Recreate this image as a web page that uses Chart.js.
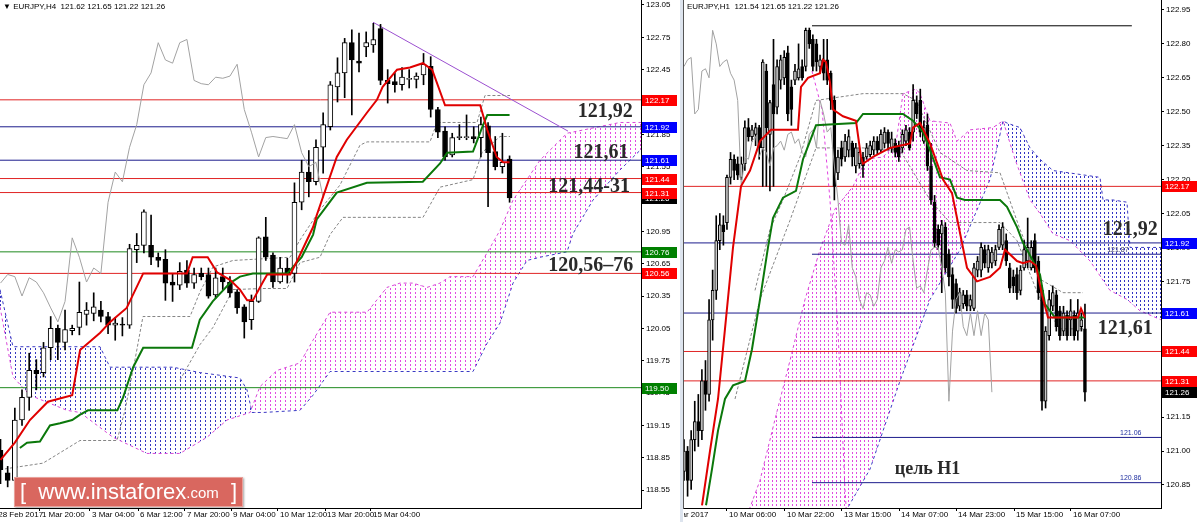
<!DOCTYPE html>
<html lang="ru">
<head>
<meta charset="UTF-8">
<title>EURJPY H4 / H1</title>
<script src="https://cdn.jsdelivr.net/npm/chart.js@4.4.1/dist/chart.umd.min.js"></script>
<style>
  html, body { margin: 0; padding: 0; background: #fff; }
  body { width: 1200px; height: 522px; position: relative; overflow: hidden; font-family: "Liberation Sans", Arial, sans-serif; }
  canvas { position: absolute; top: 0; }
  #h4 { left: 0; }
  #h1 { left: 684px; }
  .gap { position: absolute; left: 680px; top: 0; width: 3px; height: 522px; background: #dde4ee; }
  .edge { position: absolute; left: 683px; top: 0; width: 1px; height: 509px; background: #555; }
  .head { position: absolute; top: 2px; font-size: 8px; color: #000; white-space: pre; }
  .logo { position: absolute; left: 14px; top: 477px; width: 227px; height: 28px; background: #d9675f;
          border: 1px solid #e9a09a; box-shadow: 1px 1px 2px rgba(0,0,0,.35); color: #fff;
          display: flex; align-items: center; justify-content: center; white-space: pre; }
  .logo .b { font-size: 22px; font-weight: 300; }
  .logo .w { font-size: 22px; }
  .logo .c { font-size: 15px; }
</style>
</head>
<body>
<canvas id="h4" width="680" height="522"></canvas>
<div class="gap"></div>
<div class="edge"></div>
<canvas id="h1" width="516" height="522"></canvas>
<div class="head" style="left:3px">▼ EURJPY,H4  121.62 121.65 121.22 121.26</div>
<div class="head" style="left:687px">EURJPY,H1  121.54 121.65 121.22 121.26</div>
<div class="logo"><span class="b">[  </span><span class="w">www.instaforex</span><span class="c">.com</span><span class="b">  ]</span></div>

<script>
// ---------- H4 (left) ----------
const h4Open = [118.92,118.71,118.64,119.20,119.41,119.66,119.64,119.87,120.05,119.92,
  120.03,120.06,120.18,120.19,120.22,120.16,120.08,120.09,120.08,120.78,
  120.82,120.82,120.71,120.69,120.48,120.45,120.59,120.47,120.56,120.55,
  120.36,120.53,120.48,120.39,120.25,120.13,120.30,120.90,120.73,120.48,
  120.61,120.56,121.22,121.50,121.41,121.73,121.92,122.29,122.42,122.70,
  122.53,122.66,122.68,122.83,122.35,122.34,122.31,122.36,122.36,122.40,
  122.48,122.08,121.88,121.66,121.82,121.82,121.83,121.82,121.93,121.69,
  121.55,121.62];
const h4High = [119.02,118.77,119.31,119.48,119.82,119.76,119.92,120.16,120.08,120.22,
  120.08,120.48,120.29,120.38,120.30,120.20,120.15,120.15,120.83,120.93,
  121.15,121.10,120.75,120.78,120.56,120.66,120.68,120.61,120.61,120.61,
  120.61,120.61,120.53,120.41,120.27,120.36,120.90,121.08,120.75,120.71,
  120.70,121.40,121.61,121.70,121.80,122.05,122.34,122.56,122.74,122.82,
  122.79,122.80,122.88,122.87,122.45,122.42,122.47,122.45,122.42,122.60,
  122.57,122.10,121.92,121.86,121.94,122.03,121.92,122.01,121.96,121.83,
  121.86,121.65];
const h4Low = [118.61,118.58,118.62,119.15,119.29,119.48,119.60,119.76,119.76,119.85,
  119.99,119.99,120.08,120.12,120.11,120.00,119.94,119.98,120.05,120.66,
  120.75,120.64,120.62,120.31,120.30,120.41,120.43,120.42,120.50,120.33,
  120.33,120.41,120.34,120.19,119.96,120.04,120.29,120.68,120.43,120.47,
  120.47,120.48,121.15,121.27,121.38,121.49,121.89,122.15,122.19,122.03,
  122.43,122.57,122.61,122.31,122.14,122.24,122.26,122.28,122.28,122.31,
  122.01,121.82,121.61,121.64,121.80,121.80,121.77,121.64,121.18,121.52,
  121.49,121.22];
const h4Close = [118.74,118.64,119.20,119.41,119.66,119.63,119.87,120.05,119.92,120.04,
  120.05,120.20,120.22,120.25,120.16,120.08,120.10,120.08,120.79,120.82,
  121.13,120.71,120.68,120.47,120.45,120.58,120.47,120.55,120.53,120.35,
  120.52,120.48,120.38,120.24,120.11,120.30,120.89,120.71,120.48,120.61,
  120.56,121.22,121.50,121.41,121.73,121.94,122.31,122.42,122.70,122.54,
  122.51,122.70,122.73,122.35,122.32,122.31,122.38,122.37,122.39,122.50,
  122.08,121.87,121.64,121.82,121.83,121.82,121.81,121.94,121.68,121.55,
  121.59,121.26];

const h4Tenkan = [[0,118.83],[2,118.99],[4.1,119.20],[6.6,119.37],[10,119.43],[11.1,119.85],[13.9,120.01],
  [15.3,120.11],[17.6,120.24],[19.9,120.56],[26,120.56],[26.8,120.71],[28.9,120.71],[30.2,120.57],
  [32,120.50],[33.4,120.41],[34.4,120.31],[35.2,120.31],[36.6,120.48],[37.2,120.55],[40.4,120.55],
  [41.4,120.68],[43.6,120.99],[44.1,121.10],[46.9,121.64],[48.3,121.80],[51.1,122.05],[52.5,122.17],
  [53.3,122.29],[55.3,122.45],[57.1,122.47],[58.9,122.51],[60.2,122.45],[62,122.12],[66.9,122.12],
  [67.9,121.89],[69.2,121.64],[70.1,121.59],[71,121.59]];
const h4Kijun = [[2.7,118.94],[3.7,118.99],[5.5,119.00],[6.9,119.15],[8.3,119.17],[10,119.20],[11.1,119.25],
  [12.2,119.29],[16.3,119.29],[17.1,119.41],[18.5,119.69],[19.9,119.87],[26.7,119.87],[27.8,120.13],
  [29.6,120.30],[32,120.47],[33.4,120.53],[35.2,120.56],[40,120.56],[40.8,120.62],[42,120.71],
  [43.6,120.92],[44.1,121.06],[46.9,121.31],[51.1,121.40],[58.9,121.41],[61.3,121.58],[62.3,121.68],
  [65.9,121.69],[67.2,121.92],[67.9,122.03],[71,122.03]];
const h4SpanA = [[-0.07,120.25],[1.74,119.60],[4.11,119.43],[9.27,119.29],[11.09,119.27],[15.69,119.04],
  [20.43,118.89],[25.03,118.89],[28.8,119.04],[31.59,119.20],[34.8,119.27],[36.19,119.51],[38.56,119.66],
  [41.77,119.73],[43.58,119.94],[45.96,120.20],[51.12,120.20],[53.9,120.43],[55.72,120.47],[57.53,120.47],
  [59.48,120.43],[61.3,120.47],[62.69,120.53],[65.9,120.53],[67.85,120.75],[69.67,120.96],[71.48,121.24],
  [75.24,121.61],[79.01,121.86],[86.4,121.96],[89.33,121.96]];
const h4SpanB = [[-0.07,120.41],[1.74,119.88],[13.88,119.88],[15.27,119.69],[24.06,119.69],[27.83,119.64],
  [33.4,119.59],[34.38,119.48],[35.08,119.27],[36.61,119.27],[41.77,119.29],[43.58,119.43],[45.96,119.65],
  [65.9,119.65],[67.85,119.91],[69.67,120.10],[71.48,120.47],[73.43,120.68],[75.24,120.71],[79.01,120.76],
  [79.85,120.93],[82.63,121.24],[86.4,121.52],[89.33,121.71]];
const h4DashA = [[-0.07,118.74],[5.93,118.80],[11.09,119.01],[16.25,119.01],[17.36,119.29],[18.76,119.76],
  [19.87,120.16],[26.43,120.16],[27.83,120.39],[29.64,120.62],[32.43,120.68],[40.38,120.71],[41.77,120.87],
  [44.56,121.15],[47.35,121.38],[50.14,121.75],[51.12,121.78],[59.9,121.78],[60.88,121.96],[66.46,121.96],
  [67.57,122.21],[71.06,122.21]];
const h4DashB = [[25.03,119.57],[27.83,119.90],[29.64,120.06],[32.43,120.41],[36.61,120.42],[39.96,120.42],
  [41.77,120.66],[44.56,120.71],[45.96,120.92],[47.77,121.08],[58.93,121.08],[61.3,121.36],[65.9,121.43],
  [67.15,121.68],[69.67,121.83],[71.06,121.83]];
const h4Trend = [[51.95,122.89],[79.15,121.88]];
const h4Levels = [122.17, 121.92, 121.61, 121.44, 121.31, 120.76, 120.56, 119.50];
const h4Tags = [122.17, 121.92, 121.61, 121.44, 121.26, 121.31, 120.76, 120.56, 119.50];
const h4Ticks = [118.55,118.85,119.15,119.45,119.75,120.05,120.35,120.65,120.95,121.25,121.55,121.85,122.15,122.45,122.75,123.05];
const h4Dates = ['28 Feb 2017','1 Mar 20:00','3 Mar 04:00','6 Mar 12:00','7 Mar 20:00','9 Mar 04:00','10 Mar 12:00','13 Mar 20:00','15 Mar 04:00'];
const h4DateAt = [-0.6, 5.5, 12.48, 19.18, 25.73, 32.15, 38.7, 45.26, 51.67];

// ---------- H1 (right) ----------
const h1Open = [120.91,121.00,120.87,121.05,121.13,121.09,121.31,121.25,121.58,121.71,
  121.93,122.00,122.01,122.21,122.29,122.27,122.21,122.27,122.43,122.39,
  122.40,122.43,122.34,122.68,122.40,122.62,122.52,122.64,122.65,122.76,
  122.61,122.64,122.65,122.70,122.70,122.86,122.82,122.80,122.70,122.72,
  122.73,122.67,122.55,122.23,122.34,122.30,122.33,122.36,122.26,122.27,
  122.30,122.30,122.31,122.33,122.37,122.33,122.36,122.41,122.34,122.36,
  122.35,122.34,122.37,122.41,122.41,122.54,122.55,122.37,122.44,122.26,
  122.10,121.98,121.96,121.99,121.87,121.78,121.74,121.64,121.65,121.69,
  121.64,121.63,121.80,121.80,121.89,121.81,121.83,121.84,121.90,121.91,
  121.93,121.81,121.77,121.78,121.71,121.81,121.84,121.81,121.93,121.84,
  121.71,121.22,121.51,121.64,121.69,121.62,121.53,121.60,121.58,121.60,
  121.53,121.55,121.54];
const h1High = [121.05,121.02,121.09,121.22,121.25,121.36,121.40,121.67,121.80,122.04,
  122.05,122.04,122.22,122.32,122.31,122.30,122.30,122.46,122.47,122.44,
  122.45,122.44,122.73,122.71,122.55,122.82,122.73,122.75,122.77,122.79,
  122.64,122.71,122.80,122.73,122.87,122.87,122.84,122.82,122.75,122.82,
  122.82,122.68,122.57,122.33,122.37,122.40,122.42,122.37,122.36,122.34,
  122.32,122.36,122.37,122.39,122.39,122.42,122.43,122.42,122.41,122.38,
  122.37,122.42,122.44,122.43,122.62,122.57,122.60,122.46,122.49,122.36,
  122.13,122.00,122.02,122.01,121.89,121.81,121.76,121.72,121.71,121.71,
  121.69,121.83,121.86,121.92,121.91,121.91,121.90,121.91,122.00,122.01,
  121.96,121.83,121.80,121.81,121.82,121.93,122.03,121.93,121.96,121.86,
  121.73,121.55,121.71,121.73,121.71,121.64,121.64,121.62,121.67,121.62,
  121.67,121.61,121.65];
const h1Low = [120.87,120.80,120.83,121.00,121.02,121.05,121.18,121.22,121.49,121.67,
  121.89,121.91,121.98,122.18,122.20,122.20,122.20,122.24,122.37,122.37,
  122.35,122.29,122.17,122.17,122.15,122.17,122.49,122.60,122.62,122.46,
  122.44,122.62,122.64,122.64,122.68,122.78,122.68,122.68,122.67,122.64,
  122.62,122.51,122.11,122.20,122.26,122.28,122.30,122.26,122.23,122.25,
  122.21,122.29,122.30,122.31,122.31,122.32,122.34,122.33,122.32,122.30,
  122.28,122.32,122.35,122.33,122.37,122.47,122.39,122.36,122.24,122.09,
  121.90,121.89,121.70,121.79,121.73,121.63,121.61,121.62,121.63,121.62,
  121.62,121.62,121.77,121.77,121.81,121.79,121.81,121.82,121.89,121.89,
  121.82,121.70,121.70,121.67,121.69,121.80,121.81,121.80,121.79,121.67,
  121.18,121.19,121.49,121.62,121.53,121.49,121.51,121.49,121.51,121.49,
  121.49,121.53,121.22];
const h1Close = [121.00,120.87,121.05,121.13,121.09,121.31,121.25,121.58,121.71,121.93,
  122.00,121.97,122.21,122.29,122.24,122.22,122.27,122.43,122.39,122.42,
  122.43,122.34,122.72,122.43,122.54,122.49,122.70,122.73,122.74,122.49,
  122.51,122.68,122.69,122.65,122.86,122.80,122.70,122.72,122.73,122.67,
  122.64,122.55,122.17,122.30,122.29,122.37,122.39,122.30,122.34,122.32,
  122.26,122.34,122.35,122.37,122.33,122.40,122.41,122.36,122.38,122.32,
  122.30,122.40,122.42,122.34,122.55,122.49,122.41,122.43,122.26,122.11,
  121.92,121.91,122.00,121.81,121.77,121.67,121.63,121.70,121.69,121.64,
  121.67,121.81,121.84,121.90,121.83,121.89,121.88,121.89,121.98,121.99,
  121.84,121.72,121.73,121.70,121.80,121.89,121.90,121.90,121.81,121.70,
  121.22,121.53,121.67,121.70,121.55,121.51,121.61,121.51,121.62,121.51,
  121.61,121.58,121.26];

const h1Tenkan = [[5.03,120.76],[7.26,121.00],[9.5,121.23],[11.45,121.54],[13.69,121.90],[15.92,122.17],
  [18.44,122.24],[21.23,122.37],[24.3,122.42],[31.84,122.42],[32.68,122.61],[34.64,122.65],[37.99,122.67],
  [38.83,122.73],[39.66,122.72],[40.78,122.63],[41.62,122.51],[44.41,122.48],[48.04,122.46],[49.44,122.30],
  [50,122.27],[52.79,122.30],[57.54,122.34],[63.13,122.36],[63.97,122.43],[65.92,122.45],[68.72,122.36],
  [72.35,122.20],[74.86,122.14],[76.26,122.03],[79.05,121.81],[81.84,121.75],[85.47,121.77],[88.27,121.81],
  [89.66,121.89],[93.02,121.84],[94.69,121.83],[96.65,121.84],[98.32,121.82],[100,121.69],[101.68,121.59],
  [110.06,121.59],[110.89,121.63],[112.01,121.59]];
const h1Kijun = [[6.15,120.76],[7.82,120.92],[9.5,121.09],[11.45,121.23],[13.69,121.29],[17.04,121.31],
  [18.99,121.45],[21.23,121.67],[23.46,121.90],[24.86,122.03],[27.65,122.12],[31.28,122.15],[33.24,122.29],
  [35.2,122.37],[36.87,122.44],[48.04,122.45],[50,122.49],[61.17,122.49],[63.97,122.46],[66.76,122.41],
  [68.72,122.33],[71.51,122.21],[74.3,122.20],[76.26,122.12],[78.49,122.11],[88.27,122.11],[90.22,122.08],
  [93.02,121.99],[94.69,121.92],[95.81,121.89],[97.49,121.84],[99.44,121.78],[100.84,121.65],[103.63,121.59],
  [112.01,121.59]];
const h1SpanA = [[17.04,120.69],[21.23,120.87],[25.42,121.14],[29.61,121.40],[33.8,121.67],[37.99,121.89],
  [42.18,122.07],[47.21,122.17],[50.84,122.29],[55.59,122.30],[59.22,122.36],[61.17,122.58],[64.8,122.60],
  [65.92,122.58],[68.72,122.46],[74.3,122.45],[76.26,122.37],[79.89,122.42],[86.31,122.43],[89.11,122.46],
  [92.46,122.29],[96.65,122.11],[99.44,122.05],[103.07,121.96],[107.82,121.93],[113.41,121.84],
  [118.99,121.71],[123.74,121.67],[127.37,121.62],[133.24,121.58]];
const h1SpanB = [[17.04,120.60],[43.58,120.69],[51.96,120.92],[60.34,121.31],[68.72,121.67],[77.09,121.89],
  [85.47,122.20],[89.11,122.46],[90.22,122.45],[93.85,122.43],[96.65,122.34],[99.44,122.29],[103.07,122.24],
  [116.2,122.21],[117.04,122.11],[119.83,122.11],[123.74,122.10],[124.58,121.90],[133.24,121.90]];
const h1DashA = [[19.83,121.71],[24.02,121.98],[27.65,122.11],[32.4,122.30],[36.87,122.55],[50,122.58],
  [61.17,122.58],[64.8,122.55],[71.51,122.32],[79.05,122.24],[88.27,122.23],[93.85,121.98],[99.44,121.76],
  [105.87,121.70],[111.45,121.70]];
const h1DashB = [[14.25,121.23],[21.23,121.67],[29.61,122.02],[36.87,122.34],[50,122.34],[60.34,122.33],
  [68.72,122.11],[74.3,122.01],[88.27,122.01],[93.02,121.93],[99.44,121.67],[105.03,121.54],[111.45,121.54]];
const h1PinkDrop = [[35.75,122.68],[38.55,122.51],[40.78,122.11],[43.02,121.53],[44.97,120.83],[45.53,120.69]];
const h1Levels = [122.88, 122.17, 121.92, 121.87, 121.61, 121.44, 121.31, 121.06, 120.86];
const h1LevelFrom = [35.75, 0, 0, 35.75, 0, 0, 0, 35.75, 35.75];
const h1LevelTo = [125.1, 133.3, 133.3, 133.3, 133.3, 133.3, 133.3, 133.3, 133.3];
const h1Tags = [122.17, 121.92, 121.61, 121.44, 121.26, 121.31];
const h1Ticks = [120.85,121.00,121.15,121.30,121.45,121.60,121.75,121.90,122.05,122.20,122.35,122.50,122.65,122.80,122.95];
const h1Dates = ['9 Mar 2017','10 Mar 06:00','10 Mar 22:00','13 Mar 15:00','14 Mar 07:00','14 Mar 23:00','15 Mar 15:00','16 Mar 07:00'];
const h1DateAt = [-5.0, 12.01, 28.21, 44.13, 60.06, 75.98, 92.18, 108.1];

// ---------- drawing helpers ----------
const RED = '#e02424', NAVY = '#1c1c8c', GREEN = '#1f8a1f';
const FONT = '"Liberation Sans", Arial, sans-serif';

function hatch(color, w, h, len) {
  const c = document.createElement('canvas');
  c.width = w; c.height = h;
  const g = c.getContext('2d');
  g.fillStyle = color;
  g.fillRect(0, 0, 1, len);
  return g.createPattern(c, 'repeat');
}

const pts = arr => arr.map(p => ({x: p[0], y: p[1]}));

const overlay = {
  id: 'overlay',
  afterDatasetsDraw(chart, args, o) {
    const {ctx, scales: {x, y}} = chart;
    ctx.save();
    ctx.textAlign = 'left';
    ctx.textBaseline = 'middle';
    o.notes.forEach(n => {
      ctx.font = n.font;
      ctx.fillStyle = n.color;
      ctx.fillText(n.text, x.getPixelForValue(n.at), y.getPixelForValue(n.price));
    });
    ctx.restore();
  },
  afterDraw(chart, args, o) {
    const {ctx, chartArea: a, scales: {x, y}} = chart;
    ctx.save();
    ctx.font = '8px ' + FONT;
    ctx.textAlign = 'left';
    ctx.textBaseline = 'top';
    ctx.fillStyle = '#000';
    o.dates.forEach((t, k) => ctx.fillText(t, x.getPixelForValue(o.dateAt[k]) + 2, a.bottom + 3));
    ctx.textBaseline = 'middle';
    o.tags.forEach((v, k) => {
      const py = Math.round(y.getPixelForValue(v));
      ctx.fillStyle = o.tagColors[k];
      ctx.fillRect(a.right + 1, py - 5, 35, 11);
      ctx.fillStyle = '#fff';
      ctx.fillText(v.toFixed(2), a.right + 4, py + 0.5);
    });
    ctx.restore();
  }
};

function buildChart(id, d) {
  const bodies = d.open.map((o, i) => ({x: i, y: [o, d.close[i]]}));
  const wicks = d.low.map((l, i) => ({x: i, y: [l, d.high[i]]}));
  const bodyFill = d.open.map((o, i) => d.close[i] >= o ? d.upColor : '#000');
  const chikou = d.close.slice(26).map((c, i) => ({x: i, y: c}));
  const line = (data, color, width, extra) => Object.assign({
    type: 'line', data: pts(data), borderColor: color, borderWidth: width,
    pointRadius: 0, tension: 0, fill: false, order: 1
  }, extra || {});

  const datasets = [
    line(d.spanA, '#d846d8', 1, {borderDash: [3, 3], order: 10,
      fill: {target: '+1', above: d.pink, below: d.blue}}),
    line(d.spanB, '#3a3ac4', 1, {borderDash: [3, 3], order: 10}),
  ];
  d.levels.forEach((v, k) => {
    datasets.push(line([[d.levelFrom ? d.levelFrom[k] : d.xMin, v], [d.levelTo ? d.levelTo[k] : d.xMax, v]],
      d.levelColors[k], 1, {order: 8}));
  });
  d.extraLines.forEach(e => datasets.push(line(e.data, e.color, 1, {borderDash: e.dash || [], order: 7})));
  datasets.push(
    {type: 'bar', data: wicks, backgroundColor: '#000', barThickness: 1, grouped: false, order: 3},
    {type: 'bar', data: bodies, backgroundColor: bodyFill, borderColor: '#000', borderWidth: 1,
     borderSkipped: false, barThickness: d.bodyW, minBarLength: 1, grouped: false, order: 2},
    line(chikou.map(p => [p.x, p.y]), '#a2a2a2', 1, {order: 1}),
    line(d.tenkan, '#e00000', 2, {order: 0}),
    line(d.kijun, '#0b780b', 2, {order: 0})
  );

  return new Chart(document.getElementById(id), {
    type: 'bar',
    data: {datasets},
    plugins: [overlay],
    options: {
      responsive: false, animation: false, devicePixelRatio: 1, events: [],
      layout: {padding: 0},
      plugins: {
        legend: {display: false}, tooltip: {enabled: false},
        overlay: {notes: d.notes, tags: d.tags, tagColors: d.tagColors, dates: d.dates, dateAt: d.dateAt}
      },
      scales: {
        x: {
          type: 'linear', min: d.xMin, max: d.xMax, offset: false,
          grid: {display: true, drawOnChartArea: false, drawTicks: true, tickLength: 3, color: '#000', offset: false},
          border: {color: '#000'},
          ticks: {display: false},
          afterBuildTicks: s => { s.ticks = d.dateAt.filter(v => v >= d.xMin && v <= d.xMax).map(v => ({value: v})); },
          afterFit: s => { s.height = 14; s.paddingLeft = 0; s.paddingRight = 0; }
        },
        y: {
          type: 'linear', position: 'right', min: d.yMin, max: d.yMax,
          grid: {drawOnChartArea: false, tickLength: 3, color: '#000'},
          border: {color: '#000'},
          ticks: {color: '#000', font: {family: FONT, size: 8}, padding: 2, autoSkip: false,
                  callback: v => v.toFixed(2)},
          afterBuildTicks: s => { s.ticks = d.yTicks.map(v => ({value: v})); },
          afterFit: s => { s.width = 39; s.paddingTop = 0; s.paddingBottom = 0; }
        }
      }
    }
  });
}

const serif = 'bold 20px "Liberation Serif", "Times New Roman", serif';

buildChart('h4', {
  open: h4Open, high: h4High, low: h4Low, close: h4Close,
  tenkan: h4Tenkan, kijun: h4Kijun, spanA: h4SpanA, spanB: h4SpanB,
  pink: hatch('#e24ae2', 5, 4, 2), blue: hatch('#3636c0', 5, 4, 2),
  upColor: '#fff', bodyW: 5,
  levels: h4Levels, levelColors: [RED, NAVY, NAVY, RED, RED, GREEN, RED, GREEN],
  extraLines: [
    {data: h4DashA, color: '#858585', dash: [3, 2]},
    {data: h4DashB, color: '#858585', dash: [3, 2]},
    {data: h4Trend, color: '#9b4fd0'}
  ],
  tags: h4Tags, tagColors: ['#f00', '#00f', '#00f', '#f00', '#000', '#f00', '#008000', '#f00', '#008000'],
  notes: [
    {text: '121,92', at: 80.5, price: 122.06, font: serif, color: '#2a2a2a'},
    {text: '121,61', at: 79.9, price: 121.68, font: serif, color: '#2a2a2a'},
    {text: '121,44-31', at: 76.4, price: 121.36, font: serif, color: '#2a2a2a'},
    {text: '120,56–76', at: 76.4, price: 120.63, font: serif, color: '#2a2a2a'}
  ],
  dates: h4Dates, dateAt: h4DateAt, yTicks: h4Ticks,
  xMin: -0.07, xMax: 89.33, yMin: 118.384, yMax: 123.096
});

buildChart('h1', {
  open: h1Open, high: h1High, low: h1Low, close: h1Close,
  tenkan: h1Tenkan, kijun: h1Kijun, spanA: h1SpanA, spanB: h1SpanB,
  pink: hatch('#e04ce0', 4, 4, 2), blue: hatch('#3434c4', 4, 4, 2),
  upColor: '#c8c8c8', bodyW: 3,
  levels: h1Levels, levelFrom: h1LevelFrom, levelTo: h1LevelTo,
  levelColors: ['#000', RED, NAVY, NAVY, NAVY, RED, RED, NAVY, NAVY],
  extraLines: [
    {data: h1DashA, color: '#858585', dash: [3, 2]},
    {data: h1DashB, color: '#858585', dash: [3, 2]},
    {data: h1PinkDrop, color: '#e040e0', dash: [3, 3]}
  ],
  tags: h1Tags, tagColors: ['#f00', '#00f', '#00f', '#f00', '#000', '#f00'],
  notes: [
    {text: '121,92', at: 117.0, price: 121.98, font: serif, color: '#2a2a2a'},
    {text: '121,61', at: 115.6, price: 121.54, font: serif, color: '#2a2a2a'},
    {text: 'цель H1', at: 58.9, price: 120.92, font: 'bold 18px "Liberation Serif", serif', color: '#2a2a2a'},
    {text: '121.87', at: 118.2, price: 121.89, font: '7px ' + FONT, color: '#3a3a6a'},
    {text: '121.06', at: 121.8, price: 121.08, font: '7px ' + FONT, color: '#2030a0'},
    {text: '120.86', at: 121.8, price: 120.88, font: '7px ' + FONT, color: '#2030a0'}
  ],
  dates: h1Dates, dateAt: h1DateAt, yTicks: h1Ticks,
  xMin: 0, xMax: 133.24, yMin: 120.748, yMax: 122.994
});
</script>
</body>
</html>
